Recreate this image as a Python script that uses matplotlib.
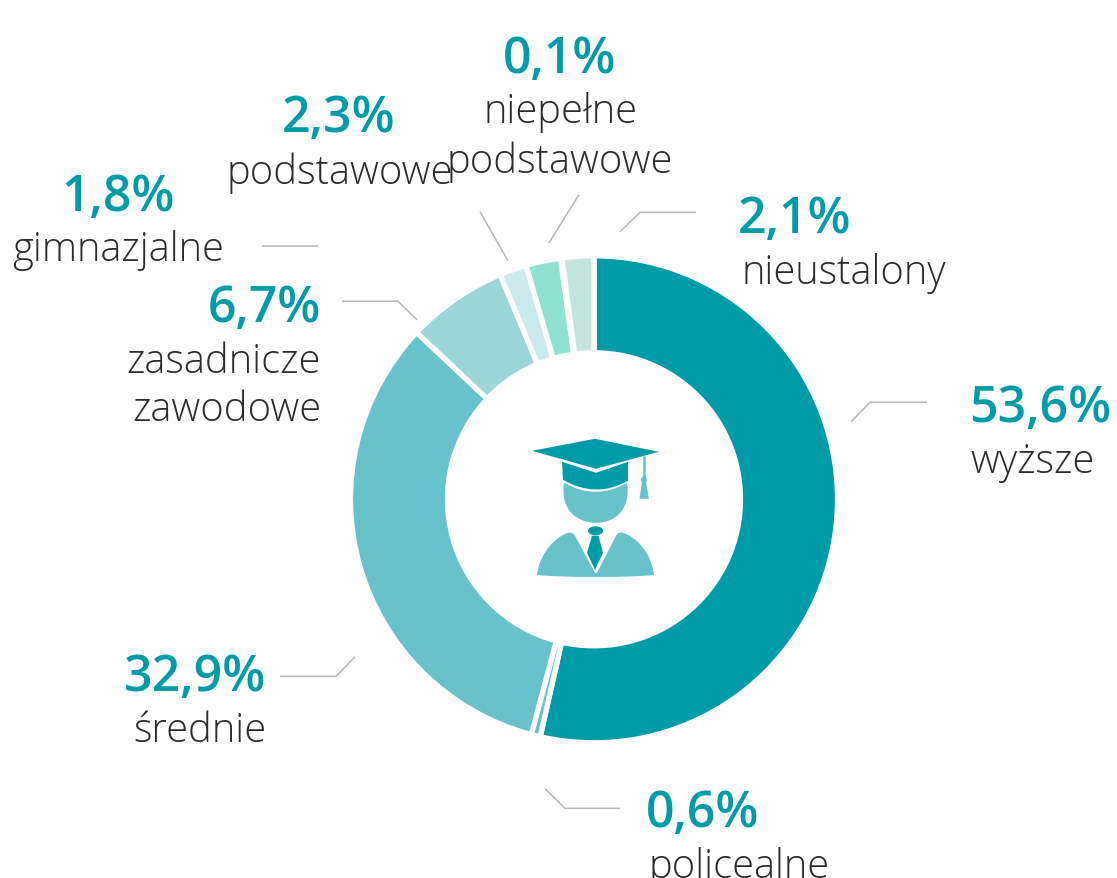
import matplotlib
matplotlib.use('agg')
import matplotlib.pyplot as plt
from matplotlib.patches import PathPatch, Ellipse, Polygon
from matplotlib.path import Path

# slices, clockwise from the top
categories = ['wyższe', 'policealne', 'średnie', 'zasadnicze zawodowe', 'gimnazjalne',
              'podstawowe', 'niepełne podstawowe', 'nieustalony']
values = [53.6, 0.6, 32.9, 6.7, 1.8, 2.3, 0.1, 2.1]
colors = ['#009ba8', '#67c2cc', '#67c2cc', '#9cd6db', '#cbeaed', '#8fe2d0', '#8fe2d0', '#c4e4de']

DARK = '#009ba8'
MID = '#67c2cc'
TEXT = '#2b2b2b'
GRAY = '#b5b5b5'

# axes work in reference pixels, y pointing down
fig = plt.figure(figsize=(11.17, 8.79), dpi=100)
ax = fig.add_axes([0, 0, 1, 1])

ax.pie(values, colors=colors, center=(594, 499.5), radius=243.5, startangle=-90, counterclock=True,
       wedgeprops=dict(width=97, edgecolor='white', linewidth=3.8))
ax.set_xlim(0, 1117)
ax.set_ylim(878.2, -0.8)
ax.set_aspect('equal')
ax.axis('off')

# leader lines
leaders = [
    [(851, 422), (870, 402.5), (927, 402.5)],
    [(620, 232), (640, 212.5), (696, 212.5)],
    [(549, 243), (579, 195)],
    [(508, 261), (480, 212)],
    [(262, 246.5), (318, 246.5)],
    [(342, 301.5), (398, 301.5), (417, 320)],
    [(280, 676.5), (336, 676.5), (355, 657)],
    [(545, 789), (565, 808.5), (620, 808.5)],
]
for pts in leaders:
    ax.plot([p[0] for p in pts], [p[1] for p in pts], color=GRAY, lw=1.1, solid_capstyle='butt')


def pct(x, y, s, ha='left'):
    ax.text(x, y, s, color=DARK, fontsize=36, fontweight='semibold', family='Open Sans',
            ha=ha, va='baseline')


def lab(x, y, s, ha='left'):
    ax.text(x, y, s, color=TEXT, fontsize=28.7, fontweight='light', family='Open Sans',
            ha=ha, va='baseline')


pct(969, 421, '53,6%')
lab(970, 472, 'wyższe')
pct(738, 232, '2,1%')
lab(741, 283, 'nieustalony')
pct(560, 72, '0,1%', 'center')
lab(560, 122, 'niepełne', 'center')
lab(560, 172, 'podstawowe', 'center')
pct(339, 131, '2,3%', 'center')
lab(340, 183, 'podstawowe', 'center')
pct(118, 210, '1,8%', 'center')
lab(118, 260, 'gimnazjalne', 'center')
pct(321, 321, '6,7%', 'right')
lab(321, 372, 'zasadnicze', 'right')
lab(321, 420, 'zawodowe', 'right')
pct(266, 690, '32,9%', 'right')
lab(266, 741, 'średnie', 'right')
pct(646, 826, '0,6%')
lab(648, 877, 'policealne')

# graduate icon in the middle
M, L, C3, C4, Z = Path.MOVETO, Path.LINETO, Path.CURVE3, Path.CURVE4, Path.CLOSEPOLY


def shape(verts, codes, color, z=3):
    ax.add_patch(PathPatch(Path(verts, codes), facecolor=color, edgecolor='none', zorder=z))


# head
shape([(564, 483), (596, 501), (627, 483),
       (631, 510), (615, 523), (596, 523),
       (577, 523), (560, 510), (564, 483)],
      [M, C3, C3, C4, C4, C4, C4, C4, C4], MID)
# shoulders
shape([(537, 575),
       (540, 552), (556, 537), (568, 533),
       (571, 532), (574, 534), (575, 536),
       (595, 573), (597, 573),
       (616, 536),
       (617, 534), (620, 532), (623, 533),
       (636, 537), (651, 552), (654, 575),
       (634, 578), (558, 578), (537, 575)],
      [M, C4, C4, C4, C4, C4, C4, L, L, L, C4, C4, C4, C4, C4, C4, C4, C4, C4], MID)
# cap
shape([(562, 462), (596, 473), (628, 462), (628, 481), (596, 499), (563, 480), (562, 462)],
      [M, L, L, L, C3, C3, L], DARK)
ax.add_patch(Polygon([(532, 451), (595, 439), (659, 452), (596, 469)], closed=True,
                     facecolor=DARK, edgecolor='none', zorder=3))
# tassel
ax.plot([644, 644], [457, 487], color=MID, lw=1.8, zorder=3)
ax.add_patch(Ellipse((644, 480), 6, 7, facecolor=MID, edgecolor='none', zorder=3))
ax.add_patch(Polygon([(642, 482), (646, 482), (649, 499), (639.5, 499)], closed=True,
                     facecolor=MID, edgecolor='none', zorder=3))
# tie
ax.add_patch(Ellipse((595.5, 531), 15, 9, facecolor=DARK, edgecolor='none', zorder=3))
ax.add_patch(Polygon([(592, 536), (598.5, 536), (603, 553), (595, 570), (587, 553)], closed=True,
                     facecolor=DARK, edgecolor='none', zorder=3))

plt.savefig('out.png', dpi=100)
